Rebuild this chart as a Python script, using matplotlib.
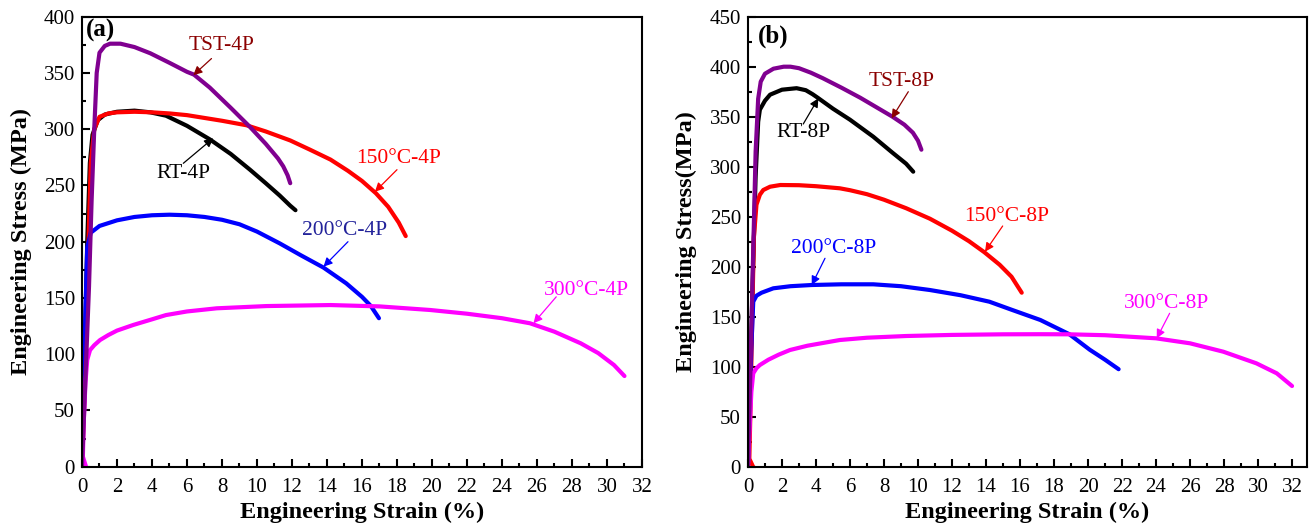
import matplotlib
matplotlib.use("Agg")
import matplotlib.pyplot as plt
from matplotlib.ticker import MultipleLocator

plt.rcParams['font.family'] = ['Liberation Serif', 'DejaVu Serif']

# ---------------- 4P specimens: engineering strain (%) / stress (MPa) ----------------
rt4_strain = [0, 0.15, 0.3, 0.45, 0.6, 0.9, 1.3, 2.0, 3.0, 3.9, 4.8, 6.0, 7.3, 8.5, 9.6, 10.5, 11.3, 11.9, 12.2]
rt4_stress = [0, 100, 200, 270, 295, 308, 313, 315.5, 316.5, 315, 312, 303, 291, 278, 264, 252, 241, 232, 228]

c150_4_strain = [0, 0.2, 0.35, 0.5, 0.7, 1.0, 1.5, 2.0, 3.0, 4.0, 5.0, 6.0, 7.0, 8.0, 9.4, 10.5, 11.9,
                 13.0, 14.2, 15.2, 16.0, 16.8, 17.5, 18.1, 18.5]
c150_4_stress = [0, 90, 190, 270, 300, 311, 314, 315, 315.5, 315, 314, 312.5, 310, 307.5, 303.5, 298, 290,
                 282, 273, 263, 254, 243, 231, 217, 205]

c200_4_strain = [0, 0.1, 0.2, 0.3, 0.5, 1.0, 2.0, 3.0, 4.0, 5.0, 6.0, 7.0, 8.0, 9.0, 10.0, 11.3, 12.5,
                 13.8, 15.1, 16.0, 16.5, 16.97]
c200_4_stress = [0, 70, 140, 195, 208, 214, 219, 222, 223.5, 224, 223.5, 222, 219.5, 215.5, 209, 198.5, 188,
                 177, 163, 151, 143, 132]

c300_4_strain = [0.23, 0.05, 0.1, 0.2, 0.3, 0.46, 0.7, 1.03, 1.5, 2.0, 2.93, 4.0, 4.8, 6.0, 7.7, 10.55,
                 14.2, 17.0, 19.9, 22.0, 24.0, 25.6, 27.0, 28.5, 29.5, 30.4, 31.0]
c300_4_stress = [0, 9, 40, 75, 95, 103.7, 108, 112.6, 117, 121, 126, 131, 134.8, 138, 140.8, 142.8,
                 143.7, 142.5, 139.3, 136, 132, 127.5, 120, 109.7, 101, 90.4, 80.6]

tst4_strain = [0, 0.2, 0.4, 0.55, 0.7, 0.84, 1.0, 1.3, 1.6, 2.2, 3.0, 3.9, 5.0, 6.0, 6.4, 7.3, 8.5,
               9.6, 10.5, 11.2, 11.5, 11.75, 11.9]
tst4_stress = [0, 80, 160, 237, 300, 350, 368, 374, 376, 376, 373, 367.5, 359, 351, 348.5, 337, 319,
               302, 287, 274, 267, 259, 252]

# ---------------- 8P specimens ----------------
rt8_strain = [0, 0.15, 0.3, 0.45, 0.6, 0.7, 1.0, 1.3, 2.0, 2.86, 3.4, 3.8, 4.1, 5.0, 6.0, 7.37, 8.5, 9.3, 9.72]
rt8_stress = [0, 100, 200, 290, 345, 357, 366, 372, 377, 378.5, 376.5, 372.5, 369, 358, 347, 330, 314, 303, 295]

c150_8_strain = [0.3, 0.08, 0.15, 0.25, 0.35, 0.5, 0.7, 0.9, 1.3, 1.9, 3.0, 4.0, 5.4, 6.0, 7.0, 8.0, 9.3,
                 10.7, 12.0, 13.0, 13.9, 14.8, 15.5, 16.1]
c150_8_stress = [0, 8, 60, 150, 230, 262, 272, 276.7, 280, 281.7, 281.5, 280.5, 278.4, 276.5, 272.5, 267, 258.5,
                 248, 236, 225.5, 214.5, 202, 190, 174]

c200_8_strain = [0, 0.1, 0.2, 0.31, 0.5, 0.8, 1.49, 2.5, 3.75, 5.5, 7.37, 9.0, 10.7, 12.5, 14.2, 15.5,
                 17.2, 18.9, 20.1, 21.0, 21.8]
c200_8_stress = [0, 60, 120, 165, 171, 174, 178.4, 180.5, 181.7, 182.4, 182.4, 180.5, 176.7, 171.5, 165,
                 157, 146.7, 132.5, 117, 107, 97.5]

c300_8_strain = [0, 0.1, 0.2, 0.31, 0.5, 0.7, 1.2, 1.8, 2.47, 3.5, 5.4, 7.0, 9.3, 12.0, 15.0, 17.2, 18.9,
                 21.0, 24.0, 26.0, 27.96, 29.9, 31.1, 32.0]
c300_8_stress = [0, 40, 75, 93.4, 98.5, 101.7, 107, 112, 116.7, 121, 126.7, 129, 130.7, 131.8, 132.4,
                 132.5, 132.4, 131.5, 128.4, 123.4, 115, 103.4, 93.4, 80.7]

tst8_strain = [0, 0.15, 0.3, 0.45, 0.6, 0.75, 1.0, 1.5, 2.1, 2.5, 3.0, 3.7, 4.4, 5.5, 6.6, 7.4, 8.5, 9.2,
               9.7, 10.0, 10.2]
tst8_stress = [0, 100, 210, 315, 368, 385, 393, 398, 400, 400, 398.5, 394, 388.5, 379, 369, 361, 350, 342,
               334, 326, 317]

x_ticks = list(range(0, 33, 2))

C_RT, C_150, C_200, C_300, C_TST = 'black', '#FF0000', '#0000FF', '#FF00FF', '#800090'

fig = plt.figure(figsize=(13.12, 5.30), dpi=100)
ax_a = fig.add_axes([0.0625, 0.1194, 0.4268, 0.8491])
ax_b = fig.add_axes([0.5701, 0.1194, 0.4261, 0.8491])

panel_a = [(rt4_strain, rt4_stress, C_RT), (c150_4_strain, c150_4_stress, C_150),
           (c200_4_strain, c200_4_stress, C_200), (c300_4_strain, c300_4_stress, C_300),
           (tst4_strain, tst4_stress, C_TST)]
panel_b = [(rt8_strain, rt8_stress, C_RT), (c150_8_strain, c150_8_stress, C_150),
           (c200_8_strain, c200_8_stress, C_200), (c300_8_strain, c300_8_stress, C_300),
           (tst8_strain, tst8_stress, C_TST)]

for ax, curves in ((ax_a, panel_a), (ax_b, panel_b)):
    for xs, ys, col in curves:
        ax.plot(xs, ys, color=col, lw=3.0, solid_capstyle='round', solid_joinstyle='round')

ax_a.set_xlim(0, 32)
ax_a.set_ylim(0, 400)
ax_b.set_xlim(0, 32.88)
ax_b.set_ylim(0, 450)

for ax in (ax_a, ax_b):
    ax.set_xticks(x_ticks)
    ax.xaxis.set_minor_locator(MultipleLocator(1))
    ax.yaxis.set_major_locator(MultipleLocator(50))
    ax.yaxis.set_minor_locator(MultipleLocator(25))
    ax.tick_params(which='both', direction='in', top=False, right=False, width=1.5)
    ax.tick_params(which='major', length=5.5, labelsize=15)
    ax.tick_params(axis='x', which='major', pad=8)
    ax.tick_params(axis='y', which='major', pad=5)
    ax.tick_params(which='minor', length=3)
    for s in ax.spines.values():
        s.set_linewidth(1.5)
    ax.set_xlabel('Engineering Strain (%)', fontsize=17.5, fontweight='bold')
    ax.xaxis.set_label_coords(0.5, -0.078)

ax_a.set_ylabel('Engineering Stress (MPa)', fontsize=17.5, fontweight='bold')
ax_b.set_ylabel('Engineering Stress(MPa)', fontsize=17.5, fontweight='bold')
ax_a.yaxis.set_label_coords(-0.089, 0.5)
ax_b.yaxis.set_label_coords(-0.091, 0.5)

ax_a.text(1.03, 388, '(a)', fontsize=18, fontweight='bold', ha='center', va='center')
ax_b.text(1.49, 430, '(b)', fontsize=18, fontweight='bold', ha='center', va='center')

# label text, text centre, arrow start, arrow tip, text colour, arrow colour
labels_a = [
    ('TST-4P', (7.98, 374.8), (7.4, 362.8), (6.36, 348), '#8B0000', '#8B0000'),
    ('RT-4P', (5.79, 260.8), (5.79, 269.7), (7.5, 292), 'black', 'black'),
    ('150°C-4P', (18.1, 274), (18.0, 264), (16.74, 244.4), '#FF0000', '#FF0000'),
    ('200°C-4P', (15.03, 210.4), (15.2, 200), (13.8, 177.8), '#22229A', '#0000FF'),
    ('300°C-4P', (28.8, 157), (27.1, 151), (25.8, 127.5), '#FF00FF', '#FF00FF'),
]
labels_b = [
    ('TST-8P', (9.04, 385), (9.43, 375), (8.45, 348.4), '#8B0000', '#8B0000'),
    ('RT-8P', (3.25, 334), (3.25, 342.7), (4.14, 368.4), 'black', 'black'),
    ('150°C-8P', (15.2, 250), (14.98, 240.7), (13.94, 215), '#FF0000', '#FF0000'),
    ('200°C-8P', (5.02, 218.4), (4.53, 208.4), (3.75, 181.7), '#0000FF', '#0000FF'),
    ('300°C-8P', (24.6, 163.4), (24.8, 153.4), (24.04, 128.4), '#FF00FF', '#FF00FF'),
]

for ax, labels in ((ax_a, labels_a), (ax_b, labels_b)):
    for txt, tpos, start, tip, tcol, acol in labels:
        ax.text(tpos[0], tpos[1], txt, color=tcol, fontsize=15.5, ha='center', va='center')
        ax.annotate('', xy=tip, xytext=start,
                    arrowprops=dict(arrowstyle='-|>', color=acol, lw=0.9,
                                    mutation_scale=13, shrinkA=0, shrinkB=0))

fig.savefig('out.png', dpi=100)
